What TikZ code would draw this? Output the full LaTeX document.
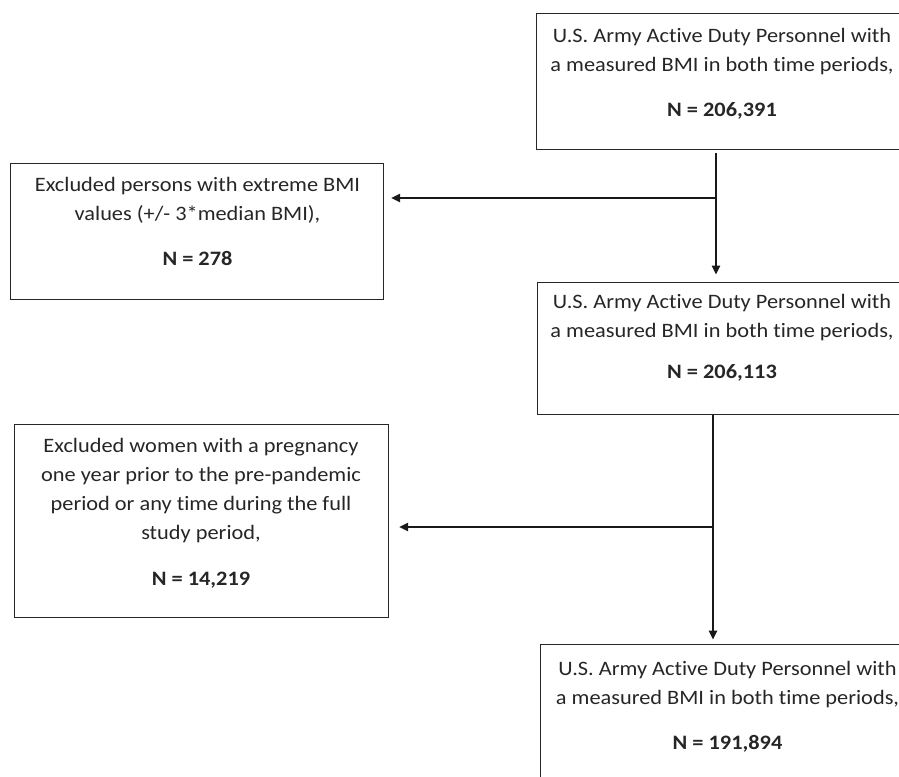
\documentclass[tikz,border=0pt]{standalone}
\usepackage{fontspec}
\setmainfont{Carlito}[FakeStretch=1.09, Ligatures=NoCommon]
\usetikzlibrary{arrows.meta,calc}
\begin{document}
\begin{tikzpicture}[x=1pt,y=-1pt,
  box/.style={draw=black!85, line width=1.2pt, rectangle, inner sep=0pt, anchor=north west},
  txt/.style={align=center, inner sep=0pt, anchor=base, text=black!85, font=\fontsize{20.5}{29}\selectfont},
  conn/.style={draw=black!90, line width=1.2pt},
  arr/.style={conn, -{Triangle[length=9pt,width=8.5pt]}}]
\useasboundingbox (0,0) rectangle (899,776);
\clip (0,0) rectangle (899,776);
% boxes
\node[box, minimum width=380pt, minimum height=136pt] (b1) at (536,13) {};
\node[box, minimum width=380pt, minimum height=132pt] (b2) at (537,281.5) {};
\node[box, minimum width=380pt, minimum height=150pt] (b3) at (540,644) {};
\node[box, minimum width=373pt, minimum height=136pt] (l1) at (10,163) {};
\node[box, minimum width=374pt, minimum height=193pt] (l2) at (14,424) {};
% texts (anchor base = baseline of the last line)
\node[txt] (t1) at (722,116.7) {U.S. Army Active Duty Personnel with\\a measured BMI in both time periods,\\[16pt]\textbf{N = 206,391}};
\node[txt] (t2) at (722,378.3) {U.S. Army Active Duty Personnel with\\a measured BMI in both time periods,\\[12pt]\textbf{N = 206,113}};
\node[txt] (t3) at (727.5,749) {U.S. Army Active Duty Personnel with\\a measured BMI in both time periods,\\[16pt]\textbf{N = 191,894}};
\node[txt] (tl1) at (197.5,265) {Excluded persons with extreme BMI\\values (+/- 3*median BMI),\\[16pt]\textbf{N = 278}};
\node[txt] (tl2) at (201,585.7) {Excluded women with a pregnancy\\one year prior to the pre-pandemic\\period or any time during the full\\study period,\\[17pt]\textbf{N = 14,219}};
% junctions
\coordinate (j1) at (716,198);
\coordinate (j2) at (713,527);
% connectors
\draw[conn] ([yshift=-3pt]b1.south -| j1) -- (j1);
\draw[arr, shorten >=7pt] (j1) -- (b2.north -| j1);
\draw[arr, shorten >=7pt] (j1) -- (l1.east |- j1);
\draw[conn] (b2.south -| j2) -- (j2);
\draw[arr, shorten >=4.5pt] (j2) -- (b3.north -| j2);
\draw[arr, shorten >=10pt] (j2) -- (l2.east |- j2);
\end{tikzpicture}
\end{document}
